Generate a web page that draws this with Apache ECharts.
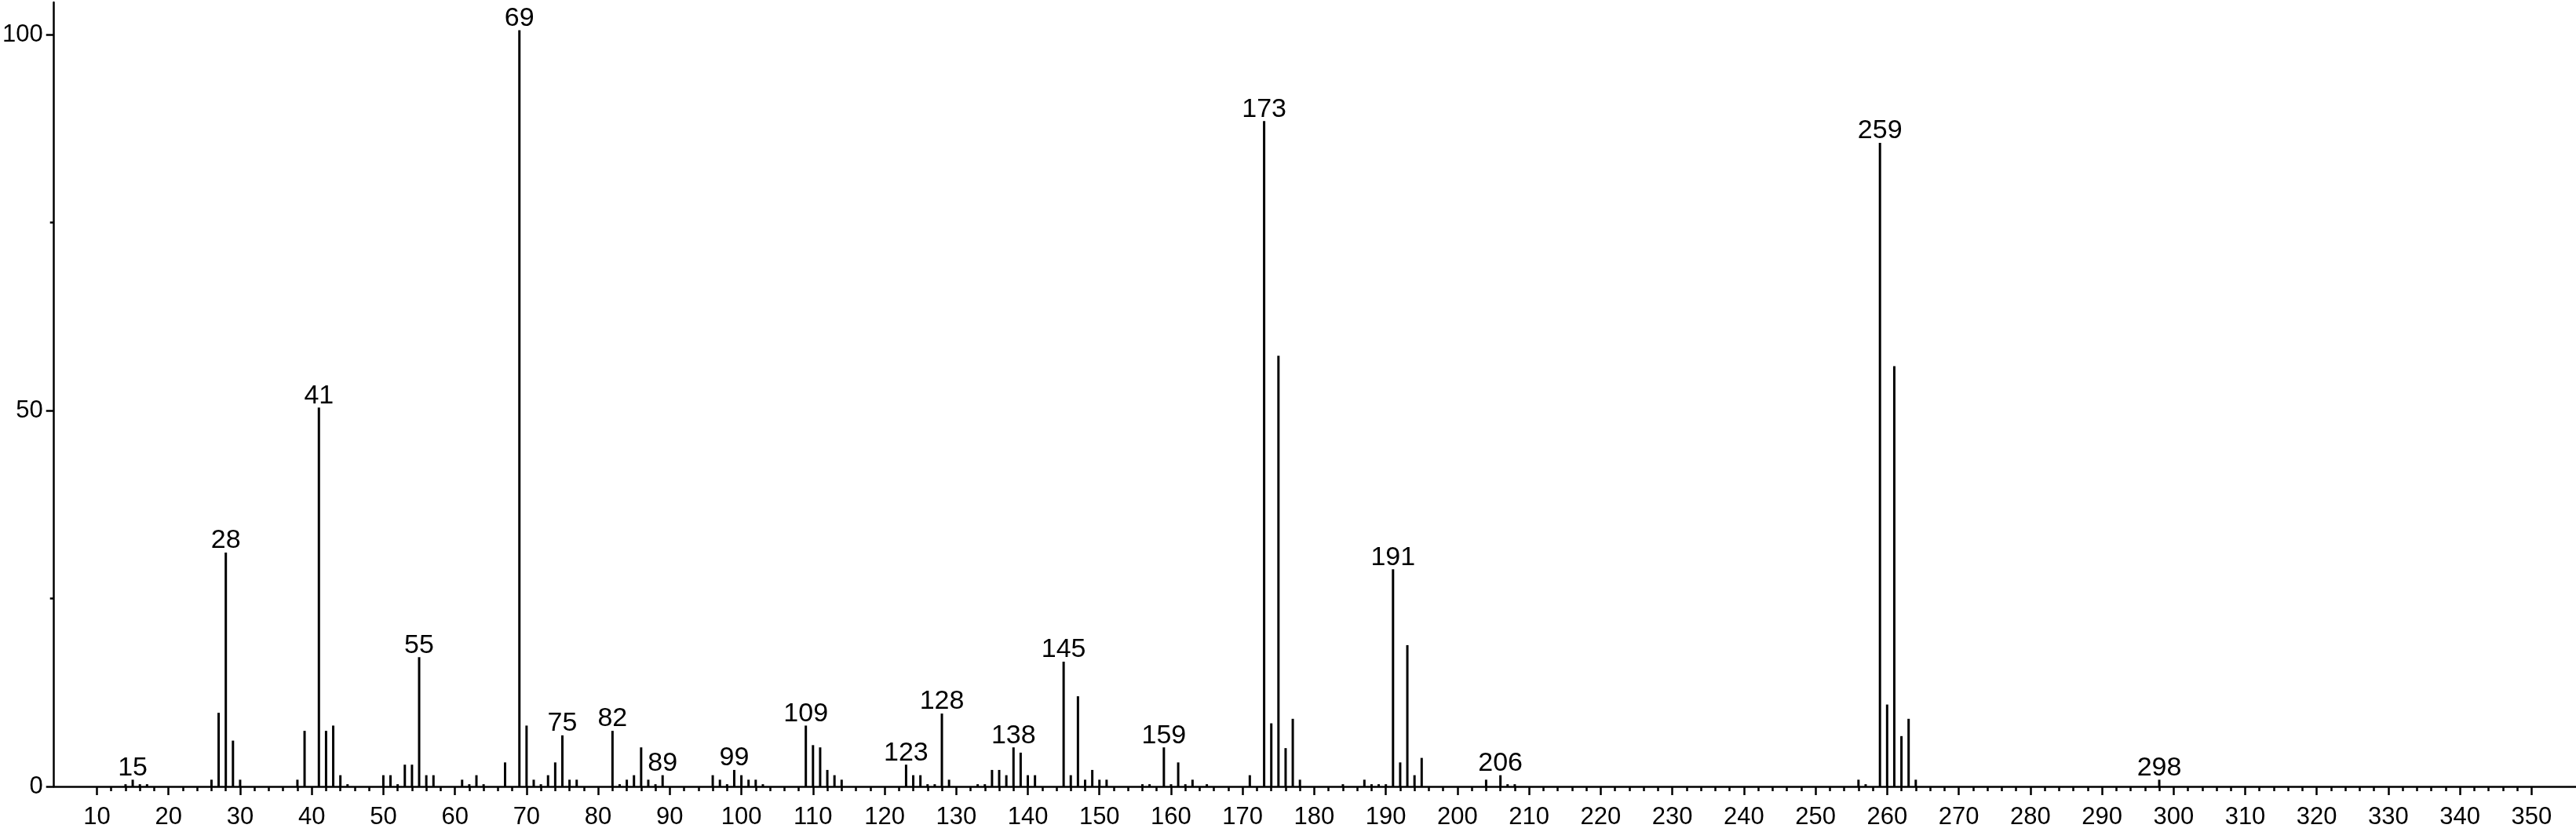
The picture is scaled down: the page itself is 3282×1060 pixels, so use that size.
<!DOCTYPE html>
<html>
<head>
<meta charset="utf-8">
<script src="https://cdn.jsdelivr.net/npm/echarts@6/dist/echarts.min.js"></script>
<style>
html,body{margin:0;padding:0;background:#fff;}
#chart{width:3282px;height:1060px;}
</style>
</head>
<body>
<div id="chart"></div>
<script>
// m/z values of the peaks
const mz = [14,15,16,17,26,27,28,29,30,38,39,41,42,43,44,45,50,51,52,53,54,55,56,57,
  61,62,63,64,67,69,70,71,72,73,74,75,76,77,82,83,84,85,86,87,88,89,
  96,97,98,99,100,101,102,103,109,110,111,112,113,114,
  123,124,125,126,127,128,129,133,134,135,136,137,138,139,140,141,
  145,146,147,148,149,150,151,156,157,159,160,161,162,163,165,
  171,173,174,175,176,177,178,184,187,188,189,190,191,192,193,194,195,
  204,206,207,208,256,257,259,260,261,262,263,264,298];
// relative intensities (same order as mz)
const intensity = [0.3,0.9,0.3,0.3,0.9,9.8,31.1,6.1,0.9,0.9,7.4,50.4,7.4,8.1,1.5,0.3,1.5,1.5,0.3,2.9,2.9,17.2,1.5,1.5,
  0.9,0.3,1.5,0.3,3.2,100.6,8.1,0.9,0.3,1.5,3.2,6.8,0.9,0.9,7.4,0.3,0.9,1.5,5.2,0.9,0.3,1.5,
  1.5,0.9,0.3,2.2,1.5,0.9,0.9,0.3,8.1,5.5,5.2,2.2,1.5,0.9,
  2.9,1.5,1.5,0.3,0.3,9.7,0.9,0.3,0.3,2.2,2.2,1.5,5.2,4.5,1.5,1.5,
  16.6,1.5,12.0,0.9,2.2,0.9,0.9,0.3,0.3,5.2,0.3,3.2,0.3,0.9,0.3,
  1.5,88.5,8.4,57.3,5.1,9.0,0.9,0.3,0.9,0.3,0.3,0.3,28.9,3.2,18.8,1.5,3.8,
  0.9,1.5,0.3,0.3,0.9,0.3,85.6,10.9,55.9,6.7,9.0,0.9,0.9];
// peaks that carry a text label
const labeledMz = [15,28,41,55,69,75,82,89,99,109,123,128,138,145,159,173,191,206,259,298];
// axis tick labels
const xTickLabels = [10,20,30,40,50,60,70,80,90,100,110,120,130,140,150,160,170,180,190,200,
  210,220,230,240,250,260,270,280,290,300,310,320,330,340,350];
const xMinorTicks = [12,14,16,18,22,24,26,28,32,34,36,38,42,44,46,48,52,54,56,58,62,64,66,68,72,74,76,78,
  82,84,86,88,92,94,96,98,102,104,106,108,112,114,116,118,122,124,126,128,132,134,136,138,
  142,144,146,148,152,154,156,158,162,164,166,168,172,174,176,178,182,184,186,188,
  192,194,196,198,202,204,206,208,212,214,216,218,222,224,226,228,232,234,236,238,
  242,244,246,248,252,254,256,258,262,264,266,268,272,274,276,278,282,284,286,288,
  292,294,296,298,302,304,306,308,312,314,316,318,322,324,326,328,332,334,336,338,342,344,346,348];
const yTickLabels = [0,50,100];
const yMinorTicks = [25,75];

const FONT = '"Liberation Sans", Arial, Helvetica, sans-serif';
const data = mz.map((m, i) => {
  const item = { value: [m, intensity[i]] };
  if (labeledMz.indexOf(m) >= 0) item.label = { show: true };
  return item;
});

const chart = echarts.init(document.getElementById('chart'), null, { renderer: 'canvas' });
chart.setOption({
  backgroundColor: '#ffffff',
  animation: false,
  grid: { left: 68, right: 0, top: 3, bottom: 58, containLabel: false },
  xAxis: [
    {
      type: 'value', min: 4, max: 356.2, position: 'bottom',
      axisLine: { show: true, onZero: false, lineStyle: { color: '#000', width: 2.5 } },
      axisTick: { show: true, customValues: xTickLabels, length: 11, lineStyle: { color: '#000', width: 2.5 } },
      axisLabel: { show: true, customValues: xTickLabels, color: '#000', fontSize: 31, fontFamily: FONT, margin: 24 },
      splitLine: { show: false }
    },
    {
      type: 'value', min: 4, max: 356.2, position: 'bottom',
      axisLine: { show: false },
      axisTick: { show: true, customValues: xMinorTicks, length: 6, lineStyle: { color: '#000', width: 2.5 } },
      axisLabel: { show: false },
      splitLine: { show: false }
    }
  ],
  yAxis: [
    {
      type: 'value', min: 0, max: 104.3, position: 'left',
      axisLine: { show: true, onZero: false, lineStyle: { color: '#000', width: 2.5 } },
      axisTick: { show: true, customValues: yTickLabels, length: 10, lineStyle: { color: '#000', width: 2.5 } },
      axisLabel: { show: true, customValues: yTickLabels, color: '#000', fontSize: 31, fontFamily: FONT, margin: 14, padding: [8, 0, 0, 0] },
      splitLine: { show: false }
    },
    {
      type: 'value', min: 0, max: 104.3, position: 'left',
      axisLine: { show: false },
      axisTick: { show: true, customValues: yMinorTicks, length: 5, lineStyle: { color: '#000', width: 2.5 } },
      axisLabel: { show: false },
      splitLine: { show: false }
    }
  ],
  series: [{
    type: 'bar',
    xAxisIndex: 0,
    yAxisIndex: 0,
    barWidth: 3,
    itemStyle: { color: '#000' },
    label: {
      show: false,
      position: 'top',
      distance: -2,
      color: '#000',
      fontSize: 34,
      fontFamily: FONT,
      formatter: p => String(p.value[0])
    },
    data: data
  }]
});
</script>
</body>
</html>
